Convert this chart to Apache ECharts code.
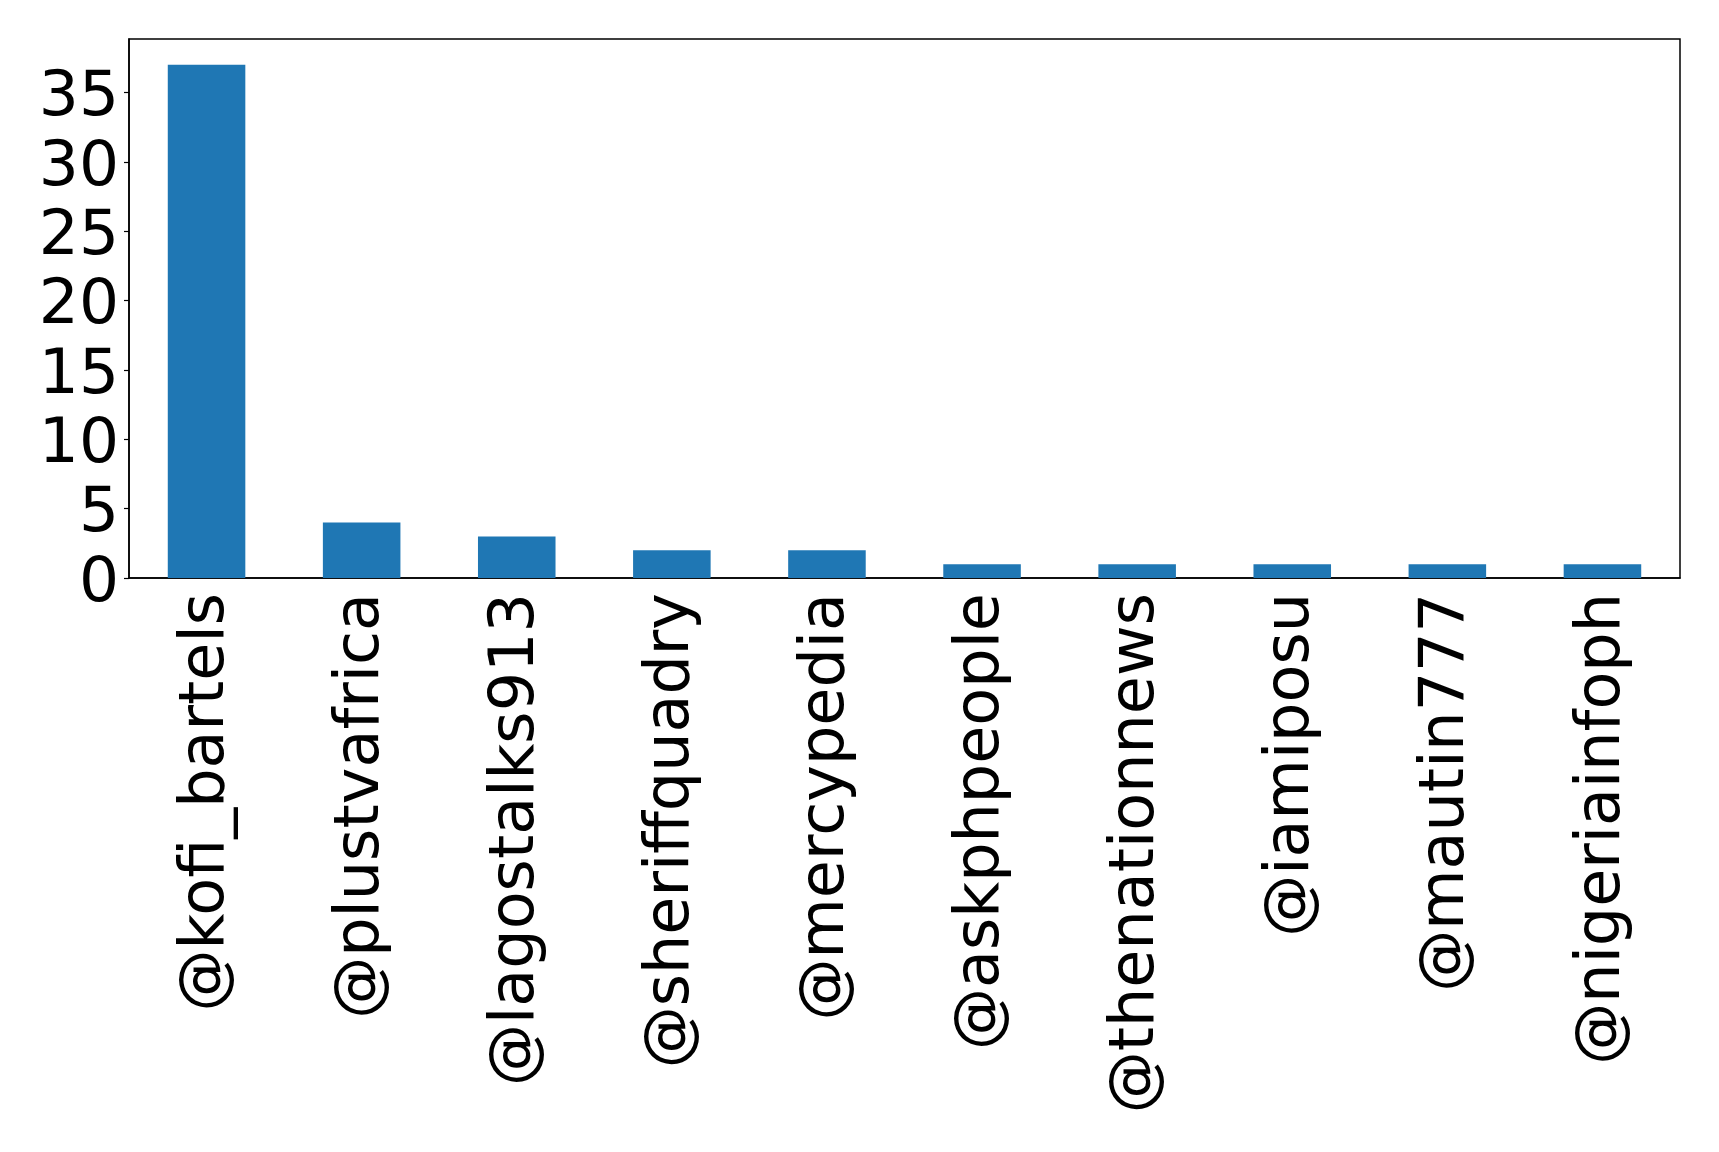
<!DOCTYPE html>
<html>
<head>
<meta charset="utf-8">
<script src="https://cdn.jsdelivr.net/npm/echarts@6/dist/echarts.min.js"></script>
<style>
  html, body { margin: 0; padding: 0; background: #fff; }
  #chart { width: 1719px; height: 1152px; }
</style>
</head>
<body>
<div id="chart"></div>
<script>
// 类目 (account names)
const accounts = [
  '@kofi_bartels', '@plustvafrica', '@lagostalks913', '@sheriffquadry', '@mercypedia',
  '@askphpeople', '@thenationnews', '@iamiposu', '@mautin777', '@nigeriainfoph'
]
// 数据
const counts = [37, 4, 3, 2, 2, 1, 1, 1, 1, 1]
// y轴刻度
const yTicks = [0, 5, 10, 15, 20, 25, 30, 35]

const chart = echarts.init(document.getElementById('chart'))
const font = 'DejaVu Sans'

const option = {
  animation: false,
  grid: {
    left: 129,
    right: 39,
    top: 39,
    bottom: 574,
    show: true,
    borderColor: '#000',
    borderWidth: 1.5,
    outerBoundsMode: 'none'
  },
  xAxis: {
    type: 'category',
    data: accounts,
    boundaryGap: true,
    axisLine: { lineStyle: { color: '#000', width: 1.5 } },
    axisTick: { alignWithLabel: true, length: 5, lineStyle: { color: '#000', width: 1.2 } },
    axisLabel: {
      rotate: 90,
      interval: 0,
      margin: 15,
      color: '#000',
      fontFamily: font,
      fontSize: 62
    }
  },
  yAxis: {
    type: 'value',
    min: 0,
    // 留出 5% 的顶部空白
    max: 37 * 1.05,
    interval: 5,
    splitLine: { show: false },
    axisLine: { show: true, lineStyle: { color: '#000', width: 1.5 } },
    axisTick: { show: true, length: 5, customValues: yTicks, lineStyle: { color: '#000', width: 1.2 } },
    axisLabel: {
      customValues: yTicks,
      margin: 10,
      // 数字稍微往下一点
      verticalAlign: 'top',
      lineHeight: 13,
      color: '#000',
      fontFamily: font,
      fontSize: 63
    }
  },
  series: [
    {
      type: 'bar',
      data: counts,
      barWidth: '50%',
      itemStyle: { color: '#1f77b4' }
    }
  ]
}
chart.setOption(option)
</script>
</body>
</html>
